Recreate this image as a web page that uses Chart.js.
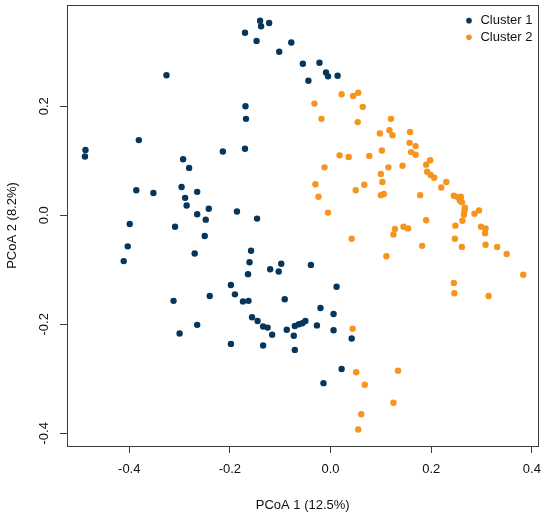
<!DOCTYPE html>
<html><head><meta charset="utf-8">
<script src="https://cdn.jsdelivr.net/npm/chart.js@4.4.1/dist/chart.umd.min.js"></script>
<style>html,body{margin:0;padding:0;background:#fff;} canvas{display:block;}</style>
</head><body>
<canvas id="c" width="550" height="513"></canvas>
<script>
const seriesNames = ['Cluster 1', 'Cluster 2'];
const seriesColors = ['#06365b', '#f7941d'];
const xTitle = 'PCoA 1 (12.5%)';
const yTitle = 'PCoA 2 (8.2%)';
const xTicks = [-0.4, -0.2, 0.0, 0.2, 0.4];
const yTicks = [-0.4, -0.2, 0.0, 0.2];

const cluster1X = [-0.140,-0.138,-0.122,-0.170,-0.147,-0.102,-0.326,-0.169,-0.168,-0.381,
  -0.487,-0.488,-0.170,-0.214,-0.293,-0.281,-0.386,-0.352,-0.296,-0.265,
  -0.289,-0.286,-0.242,-0.265,-0.248,-0.186,-0.146,-0.399,-0.309,-0.250,
  -0.403,-0.411,-0.270,-0.158,-0.161,-0.164,-0.120,-0.103,-0.098,-0.039,
  -0.198,-0.190,-0.174,-0.163,-0.240,-0.312,-0.156,-0.145,-0.134,-0.125,
  -0.265,-0.300,-0.116,-0.198,-0.134,-0.091,0.012,-0.020,0.006,-0.087,
  -0.073,-0.071,-0.063,-0.056,-0.050,-0.027,0.006,0.042,-0.071,0.022,
  -0.014,-0.078,-0.055,-0.022,-0.044,-0.009,-0.005,0.014];
const cluster1Y = [0.357,0.347,0.353,0.335,0.320,0.300,0.257,0.200,0.177,0.138,
  0.120,0.108,0.122,0.117,0.103,0.087,0.046,0.041,0.052,0.043,
  0.032,0.018,0.012,0.002,-0.008,0.007,-0.006,-0.016,-0.021,-0.038,
  -0.057,-0.084,-0.070,-0.065,-0.086,-0.108,-0.099,-0.103,-0.089,-0.091,
  -0.128,-0.145,-0.158,-0.157,-0.148,-0.157,-0.187,-0.194,-0.204,-0.206,
  -0.201,-0.217,-0.219,-0.236,-0.239,-0.154,-0.131,-0.170,-0.181,-0.210,
  -0.221,-0.203,-0.200,-0.198,-0.194,-0.202,-0.211,-0.226,-0.247,-0.282,
  -0.308,0.317,0.278,0.280,0.247,0.262,0.255,0.256];

const cluster2X = [0.022,0.045,0.055,-0.032,0.064,-0.018,0.054,0.120,0.117,0.123,
  0.098,0.158,0.157,0.169,0.102,0.160,0.169,0.018,0.036,0.077,
  0.198,0.190,0.143,0.115,-0.012,0.192,0.199,0.206,0.100,0.230,
  0.220,0.103,-0.030,0.067,0.050,-0.024,0.100,0.106,0.178,0.245,
  0.253,0.259,0.257,0.261,-0.005,0.267,0.266,0.265,0.286,0.295,
  0.190,0.262,0.248,0.128,0.125,0.145,0.154,0.299,0.308,0.307,
  0.042,0.247,0.182,0.261,0.308,0.331,0.350,0.111,0.383,0.245,
  0.246,0.314,0.044,0.051,0.134,0.068,0.125,0.061,0.055];
const cluster2Y = [0.222,0.219,0.225,0.205,0.199,0.177,0.171,0.177,0.156,0.147,
  0.150,0.153,0.133,0.127,0.119,0.116,0.111,0.110,0.107,0.109,
  0.101,0.093,0.091,0.088,0.088,0.080,0.074,0.069,0.076,0.061,
  0.051,0.061,0.057,0.056,0.046,0.034,0.037,0.039,0.037,0.036,
  0.033,0.034,0.027,0.024,0.005,0.014,0.008,0.001,0.003,0.009,
  -0.009,-0.010,-0.019,-0.025,-0.035,-0.021,-0.024,-0.021,-0.024,-0.033,
  -0.043,-0.043,-0.056,-0.058,-0.054,-0.058,-0.071,-0.075,-0.109,-0.124,
  -0.143,-0.148,-0.208,-0.288,-0.285,-0.311,-0.344,-0.365,-0.393];

const FONT = '"Liberation Sans", Arial, Helvetica, sans-serif';
const TEXT = '#111111';
const fmt = v => (Math.abs(v) < 1e-9 ? 0 : v).toFixed(1);
const pts = (xs, ys) => xs.map((x, i) => ({x: x, y: ys[i]}));

const framePlugin = {
  id: 'frame',
  afterLayout(chart) {
    const lg = chart.legend;
    const ca = chart.chartArea;
    if (!lg) return;
    const w = lg.width, h = lg.height;
    lg.left = ca.right - 78;
    lg.right = lg.left + w;
    lg.top = ca.top + 5.6;
    lg.bottom = lg.top + h;
  },
  afterDraw(chart) {
    const {ctx, chartArea: a, scales: {y}} = chart;
    ctx.save();
    ctx.strokeStyle = '#3c3c3c';
    ctx.lineWidth = 1;
    ctx.strokeRect(Math.round(a.left) + 0.5, Math.round(a.top) + 0.5,
                   Math.round(a.right - a.left), Math.round(a.bottom - a.top));
    ctx.fillStyle = TEXT;
    ctx.font = '13px ' + FONT;
    ctx.textAlign = 'center';
    ctx.textBaseline = 'middle';
    y.ticks.forEach(t => {
      const py = y.getPixelForValue(t.value);
      ctx.save();
      ctx.translate(a.left - 23, py);
      ctx.rotate(-Math.PI / 2);
      ctx.fillText(fmt(t.value), 0, 0);
      ctx.restore();
    });
    ctx.restore();
  }
};

new Chart(document.getElementById('c'), {
  type: 'scatter',
  data: {
    datasets: [
      {label: seriesNames[0], data: pts(cluster1X, cluster1Y), backgroundColor: seriesColors[0], borderColor: seriesColors[0], borderWidth: 0, pointRadius: 3.2, pointStyle: 'circle'},
      {label: seriesNames[1], data: pts(cluster2X, cluster2Y), backgroundColor: seriesColors[1], borderColor: seriesColors[1], borderWidth: 0, pointRadius: 3.2, pointStyle: 'circle'}
    ]
  },
  options: {
    responsive: false,
    animation: false,
    events: [],
    layout: {padding: {top: 5, right: 9, bottom: 0, left: 0}},
    plugins: {
      legend: {
        position: 'chartArea',
        align: 'start',
        labels: {
          usePointStyle: true,
          pointStyle: 'circle',
          boxWidth: 10,
          boxHeight: 4,
          padding: 3.6,
          color: TEXT,
          font: {size: 13, family: FONT}
        }
      },
      tooltip: {enabled: false}
    },
    scales: {
      x: {
        type: 'linear',
        position: 'bottom',
        min: -0.5237,
        max: 0.413,
        afterBuildTicks: s => { s.ticks = xTicks.map(v => ({value: v})); },
        afterFit: s => { s.height = 67; },
        ticks: {font: {size: 13, family: FONT}, color: TEXT, padding: 9, autoSkip: false, maxRotation: 0, callback: v => fmt(v)},
        grid: {display: true, drawOnChartArea: false, drawTicks: true, tickLength: 7, color: '#3c3c3c', lineWidth: 1},
        border: {display: false},
        title: {display: true, text: xTitle, color: TEXT, font: {size: 13, family: FONT}, padding: {top: 0, bottom: 0}}
      },
      y: {
        type: 'linear',
        position: 'left',
        min: -0.4233,
        max: 0.3859,
        afterBuildTicks: s => { s.ticks = yTicks.map(v => ({value: v})); },
        afterFit: s => { s.width = 67; },
        ticks: {display: false},
        grid: {display: true, drawOnChartArea: false, drawTicks: true, tickLength: 7, color: '#3c3c3c', lineWidth: 1},
        border: {display: false},
        title: {display: true, text: yTitle, color: TEXT, font: {size: 13, family: FONT}, padding: {top: 5, bottom: 0}}
      }
    }
  },
  plugins: [framePlugin]
});
</script>
</body></html>
